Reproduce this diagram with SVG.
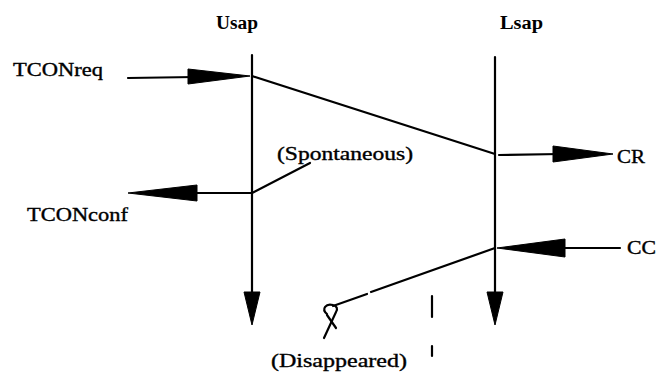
<svg xmlns="http://www.w3.org/2000/svg" width="659" height="377" viewBox="0 0 659 377">
  <style>
    .lbl { font-family: "Liberation Serif", "Times New Roman", serif; font-size: 18px; fill: #000; stroke: #000; stroke-width: 0.35; }
    .hdr { font-family: "Liberation Serif", "Times New Roman", serif; font-size: 18px; font-weight: bold; fill: #000; }
    .ln { stroke: #000; stroke-width: 2.2; fill: none; stroke-linecap: round; }
    .head { fill: #000; stroke: #000; stroke-width: 1; stroke-linejoin: round; }
  </style>
  <rect width="659" height="377" fill="#fff"/>

  <!-- service access points -->
  <g id="usap">
    <text class="hdr" x="216" y="29" textLength="42" lengthAdjust="spacingAndGlyphs">Usap</text>
    <line class="ln" x1="252" y1="55" x2="252" y2="296"/>
    <polygon class="head" points="252,325 244,292 260,292"/>
  </g>
  <g id="lsap">
    <text class="hdr" x="500" y="29" textLength="43" lengthAdjust="spacingAndGlyphs">Lsap</text>
    <line class="ln" x1="495" y1="57" x2="495" y2="296"/>
    <polygon class="head" points="495,325 487,292 503,292"/>
  </g>

  <!-- primitives and events -->
  <g id="tconreq">
    <text class="lbl" x="13" y="76" textLength="90" lengthAdjust="spacingAndGlyphs">TCONreq</text>
  </g>
  <g id="tconconf">
    <text class="lbl" x="27" y="221" textLength="101" lengthAdjust="spacingAndGlyphs">TCONconf</text>
  </g>
  <g id="cr">
    <text class="lbl" x="617" y="163" textLength="28" lengthAdjust="spacingAndGlyphs">CR</text>
  </g>
  <g id="cc">
    <text class="lbl" x="627" y="254" textLength="29" lengthAdjust="spacingAndGlyphs">CC</text>
  </g>
  <g id="spontaneous">
    <text class="lbl" x="277" y="160" textLength="136" lengthAdjust="spacingAndGlyphs">(Spontaneous)</text>
  </g>
  <g id="disappeared">
    <text class="lbl" x="271" y="367" textLength="136" lengthAdjust="spacingAndGlyphs">(Disappeared)</text>
    <!-- lost-message cross -->
    <path class="ln" stroke-width="3.4" d="M327,314 C321,309 326,303 333,305 C337,306 338,309 336,312 L324,338"/>
    <path class="ln" stroke-width="3.6" d="M327,315 L336,328"/>
  </g>

  <!-- connectors -->
  <g id="connectors">
    <!-- TCONreq into Usap -->
    <line class="ln" x1="128" y1="78" x2="195" y2="77"/>
    <polygon class="head" points="250,76 188,69 188,84"/>
    <!-- Usap to Lsap -->
    <line class="ln" x1="252" y1="76" x2="495" y2="154"/>
    <!-- CR out of Lsap -->
    <line class="ln" x1="499" y1="155" x2="560" y2="154"/>
    <polygon class="head" points="613,154 553,146 553,162"/>
    <!-- spontaneous confirm -->
    <line class="ln" x1="252" y1="193" x2="310" y2="163"/>
    <!-- TCONconf out of Usap -->
    <line class="ln" x1="252" y1="193" x2="190" y2="193"/>
    <polygon class="head" points="128,193 197,185 197,201"/>
    <!-- CC into Lsap -->
    <line class="ln" x1="620" y1="248" x2="560" y2="248"/>
    <polygon class="head" points="497,248 565,239 565,257"/>
    <!-- lost confirm -->
    <line class="ln" x1="495" y1="248" x2="371" y2="292"/>
    <line class="ln" x1="367" y1="294" x2="333" y2="306"/>
    <!-- dashed marker -->
    <line class="ln" stroke-width="3" x1="432" y1="296" x2="432" y2="317"/>
    <line class="ln" stroke-width="3" x1="432" y1="346" x2="432" y2="356"/>
  </g>
</svg>
